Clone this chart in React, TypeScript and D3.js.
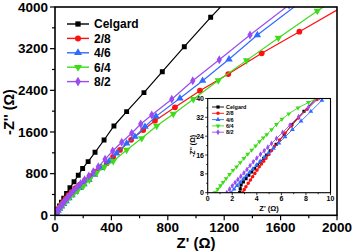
import * as d3 from 'd3';

// main plot: Z' (ohm) and -Z'' (ohm) for each separator
const celgardRe = [3, 10, 20, 32, 46, 62, 82, 106, 135, 165, 196, 235, 284, 348, 418, 508, 631, 761, 917, 1104, 1330];
const celgardIm = [0, 55, 115, 180, 250, 330, 420, 530, 645, 770, 900, 1030, 1210, 1446, 1715, 1990, 2356, 2757, 3238, 3802, 4440];

const r28Re = [3, 8, 14, 22, 32, 44, 58, 75, 95, 118, 145, 176, 212, 250, 284, 325, 367, 412, 461, 540, 626, 709, 851, 1028, 1229, 1466, 1733, 2050];
const r28Im = [0, 35, 70, 110, 155, 205, 260, 320, 385, 450, 520, 590, 670, 750, 837, 920, 998, 1120, 1254, 1450, 1638, 1816, 2074, 2393, 2713, 3111, 3526, 4020];

const r46Re = [2, 7, 13, 22, 33, 46, 61, 79, 99, 121, 146, 174, 205, 240, 280, 330, 385, 437, 508, 567, 638, 716, 886, 1047, 1234, 1435, 1720];
const r46Im = [0, 28, 58, 92, 130, 172, 220, 272, 328, 390, 455, 525, 600, 680, 780, 910, 1043, 1190, 1382, 1509, 1701, 1900, 2247, 2585, 2996, 3462, 4050];

const r64Re = [0.7, 4, 9, 16, 25, 36, 50, 66, 85, 107, 132, 160, 201, 243, 296, 350, 413, 508, 615, 721, 839, 981, 1158, 1359, 1584, 1860, 2150];
const r64Im = [0, 18, 40, 68, 100, 140, 185, 235, 290, 350, 410, 470, 560, 678, 818, 930, 1040, 1254, 1479, 1715, 1945, 2230, 2590, 2975, 3405, 3925, 4430];

const r82Re = [1.5, 6, 12, 20, 30, 42, 56, 72, 90, 110, 132, 156, 182, 210, 240, 272, 307, 355, 409, 473, 544, 608, 686, 828, 977, 1165, 1383, 1660];
const r82Im = [0, 30, 60, 95, 135, 180, 230, 285, 345, 405, 470, 540, 610, 680, 755, 835, 930, 1075, 1235, 1402, 1575, 1753, 1926, 2228, 2585, 2988, 3462, 4040];

// inset: high-frequency intercept region
const inCelgardRe = [2.6, 2.65, 2.72, 2.9, 3.12, 3.35, 3.58, 3.82, 4.06, 4.3, 4.55, 4.8, 5.1, 5.57, 6.25, 6.85, 7.84, 8.9];
const inCelgardIm = [0, 1.6, 3.3, 4.6, 6.0, 7.4, 8.8, 10.2, 11.7, 13.1, 14.6, 16.0, 17.8, 20.5, 24.7, 28.9, 34.6, 40.5];
const in28Re = [2.84, 2.97, 3.11, 3.3, 3.48, 3.66, 3.84, 4.02, 4.2, 4.38, 4.56, 4.75, 4.98, 5.2, 5.43, 5.85, 6.3, 6.8, 7.4, 8.1, 8.9];
const in28Im = [0, 1.3, 2.5, 4.0, 5.4, 6.8, 8.2, 9.6, 11.0, 12.2, 13.4, 14.6, 16.2, 17.9, 19.6, 22.4, 25.3, 28.3, 31.7, 35.4, 39.6];
const in46Re = [1.9, 2.15, 2.4, 2.65, 2.9, 3.15, 3.4, 3.68, 3.97, 4.27, 4.6, 4.95, 5.35, 5.8, 6.3, 6.9, 7.6, 8.4, 9.3];
const in46Im = [0, 1.5, 3.0, 4.4, 5.8, 7.2, 8.6, 10.1, 11.7, 13.3, 15.0, 16.8, 18.8, 21.1, 23.7, 26.8, 30.4, 34.5, 39.2];
const in64Re = [0.6, 0.82, 1.04, 1.25, 1.5, 1.78, 2.06, 2.35, 2.65, 2.95, 3.26, 3.58, 3.9, 4.22, 4.52, 4.81, 5.2, 5.6, 6.04, 6.6, 7.35, 8.2, 9.1];
const in64Im = [0, 1.5, 3.0, 4.4, 6.0, 7.8, 9.5, 11.0, 12.8, 14.6, 16.4, 18.1, 19.9, 21.7, 23.3, 24.7, 26.8, 29.0, 31.2, 33.5, 36.0, 38.3, 40.6];
const in82Re = [1.55, 1.78, 2.0, 2.23, 2.46, 2.7, 2.95, 3.2, 3.45, 3.71, 4.0, 4.3, 4.6, 4.9, 5.2, 5.6, 6.1, 6.7, 7.4, 8.2, 9.1];
const in82Im = [0, 1.5, 2.9, 4.3, 5.6, 7.0, 8.4, 9.9, 11.5, 13.1, 14.7, 16.3, 17.8, 19.3, 20.9, 23.0, 25.6, 28.7, 32.3, 36.2, 40.5];

const names = ['Celgard', '2/8', '4/6', '6/4', '8/2'];
const colors = ['#000000', '#ff1010', '#2e6bff', '#3ddc1a', '#9a4cf0'];
const symbols = [d3.symbolSquare, d3.symbolCircle, d3.symbolTriangle, d3.symbolTriangle, d3.symbolDiamond];
const flips = [false, false, false, true, false];

const mainTicksX = [0, 400, 800, 1200, 1600, 2000];
const mainTicksY = [0, 800, 1600, 2400, 3200, 4000];
const insetTicksX = [0, 2, 4, 6, 8, 10];
const insetTicksY = [0, 8, 16, 24, 32, 40];

const mainRe = [celgardRe, r28Re, r46Re, r64Re, r82Re];
const mainIm = [celgardIm, r28Im, r46Im, r64Im, r82Im];
const insetRe = [inCelgardRe, in28Re, in46Re, in64Re, in82Re];
const insetIm = [inCelgardIm, in28Im, in46Im, in64Im, in82Im];

const FONT = 'Liberation Sans, Arial, sans-serif';

type Pt = [number, number];

const Marker = ({ x, y, i, size }: { x: number; y: number; i: number; size: number }) => (
    <path
        d={d3.symbol(symbols[i], size)() ?? ''}
        transform={`translate(${x},${y})${flips[i] ? ' rotate(180)' : ''}`}
        fill={colors[i]}
    />
);

export default function App() {
    const W = 352;
    const H = 252;

    const x = d3.scaleLinear().domain([0, 2000]).range([55, 337]);
    const y = d3.scaleLinear().domain([0, 4000]).range([215.3, 7]);
    const ix = d3.scaleLinear().domain([0, 10]).range([207.7, 330.5]);
    const iy = d3.scaleLinear().domain([0, 40]).range([192.7, 98.5]);

    const line = d3.line<Pt>().x((d) => x(d[0])).y((d) => y(d[1]));
    const iline = d3.line<Pt>().x((d) => ix(d[0])).y((d) => iy(d[1]));

    const series = mainRe.map((re, i) => re.map((v, k) => [v, mainIm[i][k]] as Pt));
    const iseries = insetRe.map((re, i) => re.map((v, k) => [v, insetIm[i][k]] as Pt));

    const minorX = d3.range(0, 2001, 200);
    const minorY = d3.range(0, 4001, 400);
    const iminorX = d3.range(0, 10.01, 1);
    const iminorY = d3.range(0, 40.01, 4);

    return (
        <svg width={W} height={H} style={{ position: 'absolute', left: 0, top: 0, background: '#fff' }} fontFamily={FONT}>
            <defs>
                <clipPath id="mainClip">
                    <rect x={55} y={7} width={282} height={208.3} />
                </clipPath>
                <clipPath id="insetClip">
                    <rect x={207.7} y={98.5} width={122.8} height={94.2} />
                </clipPath>
            </defs>

            {/* main series */}
            <g clipPath="url(#mainClip)">
                {series.map((s, i) => (
                    <g key={i}>
                        <path d={line(s) ?? ''} fill="none" stroke={colors[i]} strokeWidth={1.2} />
                        {s.map((d, k) => (
                            <Marker key={k} x={x(d[0])} y={y(d[1])} i={i} size={i === 1 ? 26 : 24} />
                        ))}
                    </g>
                ))}
            </g>

            {/* main frame */}
            <rect x={55} y={7} width={282} height={208.3} fill="none" stroke="#000" strokeWidth={1.6} />

            {/* main axes */}
            {minorX.map((v) => (
                <line key={v} x1={x(v)} x2={x(v)} y1={215.3} y2={215.3 + (v % 400 === 0 ? 5 : 3)} stroke="#000" strokeWidth={1.2} />
            ))}
            {minorY.map((v) => (
                <line key={v} x1={55} x2={55 - (v % 800 === 0 ? 5 : 3)} y1={y(v)} y2={y(v)} stroke="#000" strokeWidth={1.2} />
            ))}
            {mainTicksX.map((v) => (
                <text key={v} x={x(v)} y={232} textAnchor="middle" fontSize={13.5} fontWeight="bold">
                    {v}
                </text>
            ))}
            {mainTicksY.map((v) => (
                <text key={v} x={48} y={y(v) + 4.6} textAnchor="end" fontSize={13.5} fontWeight="bold">
                    {v}
                </text>
            ))}
            <text x={196} y={248} textAnchor="middle" fontSize={15} fontWeight="bold">
                Z' (Ω)
            </text>
            <text transform="translate(14,112) rotate(-90)" textAnchor="middle" fontSize={14.5} fontWeight="bold">
                -Z'' (Ω)
            </text>

            {/* main legend */}
            {names.map((n, i) => {
                const ly = 24 + i * 14.4;
                return (
                    <g key={n}>
                        <line x1={67} x2={89} y1={ly} y2={ly} stroke={colors[i]} strokeWidth={1.4} />
                        <Marker x={78} y={ly} i={i} size={28} />
                        <text x={94} y={ly + 4.3} fontSize={12} fontWeight="bold">
                            {n}
                        </text>
                    </g>
                );
            })}

            {/* inset */}
            <rect x={207.7} y={98.5} width={122.8} height={94.2} fill="#fff" />
            <g clipPath="url(#insetClip)">
                {iseries.map((s, i) => (
                    <g key={i}>
                        <path d={iline(s) ?? ''} fill="none" stroke={colors[i]} strokeWidth={0.9} />
                        {s.map((d, k) => (
                            <Marker key={k} x={ix(d[0])} y={iy(d[1])} i={i} size={10} />
                        ))}
                    </g>
                ))}
            </g>
            <rect x={207.7} y={98.5} width={122.8} height={94.2} fill="none" stroke="#000" strokeWidth={1.1} />
            {iminorX.map((v) => (
                <line key={v} x1={ix(v)} x2={ix(v)} y1={192.7} y2={192.7 + (v % 2 === 0 ? 2.5 : 1.5)} stroke="#000" strokeWidth={0.8} />
            ))}
            {iminorY.map((v) => (
                <line key={v} x1={207.7} x2={207.7 - (v % 8 === 0 ? 2.5 : 1.5)} y1={iy(v)} y2={iy(v)} stroke="#000" strokeWidth={0.8} />
            ))}
            {insetTicksX.map((v) => (
                <text key={v} x={ix(v)} y={201} textAnchor="middle" fontSize={7} fontWeight="bold">
                    {v}
                </text>
            ))}
            {insetTicksY.map((v) => (
                <text key={v} x={204} y={iy(v) + 2.5} textAnchor="end" fontSize={7} fontWeight="bold">
                    {v}
                </text>
            ))}
            <text x={ix(5)} y={211} textAnchor="middle" fontSize={7.5} fontWeight="bold">
                Z' (Ω)
            </text>
            <text transform="translate(195,146) rotate(-90)" textAnchor="middle" fontSize={7} fontWeight="bold">
                -Z'' (Ω)
            </text>
            {names.map((n, i) => {
                const ly = 107 + i * 6.3;
                return (
                    <g key={n}>
                        <line x1={212} x2={224} y1={ly} y2={ly} stroke={colors[i]} strokeWidth={0.9} />
                        <Marker x={218} y={ly} i={i} size={10} />
                        <text x={226} y={ly + 2} fontSize={5.5} fontWeight="bold">
                            {n}
                        </text>
                    </g>
                );
            })}
        </svg>
    );
}
